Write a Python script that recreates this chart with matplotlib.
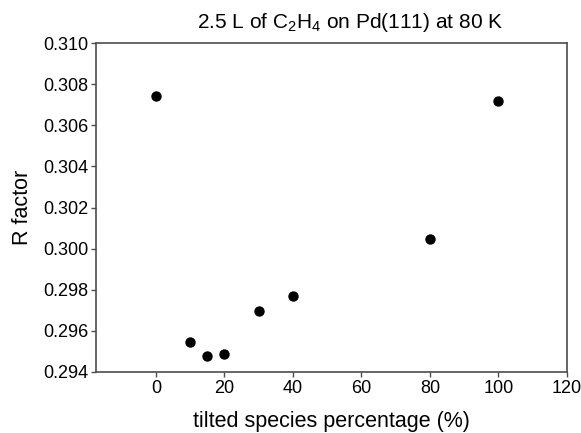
import numpy as np
import matplotlib
matplotlib.use("Agg")
import matplotlib.pyplot as plt

plt.rcParams['font.family'] = ['Liberation Sans', 'DejaVu Sans']
plt.rcParams['mathtext.fontset'] = 'custom'
plt.rcParams['mathtext.rm'] = 'Liberation Sans'
plt.rcParams['mathtext.it'] = 'Liberation Sans:italic'
plt.rcParams['mathtext.default'] = 'regular'

# tilted species percentage vs R factor
tilted_pct = [0, 10, 15, 20, 30, 40, 80, 100]
r_factor = [0.3074, 0.29547, 0.29478, 0.29489, 0.29698, 0.29768, 0.30047, 0.30718]

xticks = [0, 20, 40, 60, 80, 100, 120]
yticks = [0.294, 0.296, 0.298, 0.300, 0.302, 0.304, 0.306, 0.308, 0.310]

fig = plt.figure(figsize=(5.81, 4.33), dpi=100)
ax = fig.add_axes([96 / 581, 1 - 372 / 433, (567 - 96) / 581, (372 - 43) / 433])

ax.scatter(tilted_pct, r_factor, s=42, color='black', zorder=3)

ax.set_xlim(-17.5, 120)
ax.set_ylim(0.294, 0.310)
ax.set_xticks(xticks)
ax.set_yticks(yticks)
ax.set_yticklabels([f'{v:.3f}' for v in yticks])

for sp in ax.spines.values():
    sp.set_color('#4d4d4d')
    sp.set_linewidth(1.2)
ax.tick_params(direction='out', length=3.5, width=1, color='#4d4d4d', labelsize=13, pad=2)

ax.set_xlabel('tilted species percentage (%)', fontsize=15.5, labelpad=10)
ax.set_ylabel('R factor', fontsize=15.5, labelpad=7)
ax.set_title(r'2.5 L of C$_2$H$_4$ on Pd(111) at 80 K', fontsize=15, pad=11, x=0.54)

fig.savefig('out.png', dpi=100)
